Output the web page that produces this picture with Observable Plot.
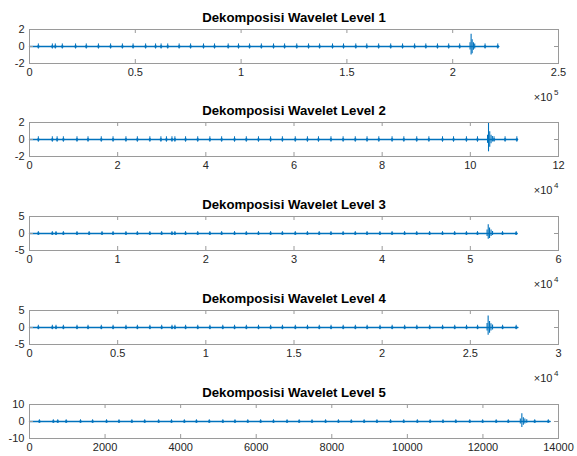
<!DOCTYPE html>
<html>
<head>
<meta charset="utf-8">
<script src="https://cdn.jsdelivr.net/npm/d3@7"></script>
<script src="https://cdn.jsdelivr.net/npm/@observablehq/plot@0.6"></script>
<style>
  html, body { margin: 0; padding: 0; background: #fff; }
  #root { position: relative; width: 577px; height: 456px; overflow: hidden; background: #fff; }
  #root svg { position: absolute; left: 0; overflow: visible; }
</style>
</head>
<body>
<div id="root"></div>
<script>
// ---------- data ----------
const titles = ["Dekomposisi Wavelet Level 1", "Dekomposisi Wavelet Level 2", "Dekomposisi Wavelet Level 3", "Dekomposisi Wavelet Level 4", "Dekomposisi Wavelet Level 5"];

const xMax = [250000, 120000, 60000, 30000, 14000];
const xTicks1 = [0, 50000, 100000, 150000, 200000, 250000];
const xLabels1 = ["0", "0.5", "1", "1.5", "2", "2.5"];
const xTicks2 = [0, 20000, 40000, 60000, 80000, 100000, 120000];
const xLabels2 = ["0", "2", "4", "6", "8", "10", "12"];
const xTicks3 = [0, 10000, 20000, 30000, 40000, 50000, 60000];
const xLabels3 = ["0", "1", "2", "3", "4", "5", "6"];
const xTicks4 = [0, 5000, 10000, 15000, 20000, 25000, 30000];
const xLabels4 = ["0", "0.5", "1", "1.5", "2", "2.5", "3"];
const xTicks5 = [0, 2000, 4000, 6000, 8000, 10000, 12000, 14000];
const xLabels5 = ["0", "2000", "4000", "6000", "8000", "10000", "12000", "14000"];
const xExpBase = ["×10", "×10", "×10", "×10", ""];
const xExpPower = ["5", "4", "4", "4", ""];

const yMax = [2, 2, 5, 5, 10];
const yTicks1 = [-2, 0, 2];
const yTicks2 = [-2, 0, 2];
const yTicks3 = [-5, 0, 5];
const yTicks4 = [-5, 0, 5];
const yTicks5 = [-10, 0, 10];

// signal extent (sample index of the last point)
const signalEnd = [221800, 110700, 55300, 27700, 13780];

// positions of the small regular spikes
const spikes1 = [4181, 10800, 12195, 15504, 21775, 26827, 32575, 38324, 43898, 48950, 54873, 59576, 62190, 65325, 70725, 76125, 82226, 87448, 93900, 98770, 104000, 109570, 115320, 120550, 126300, 131870, 137100, 143200, 148400, 154200, 159400, 165000, 170700, 176300, 182000, 187300, 192800, 198100, 203300, 215300, 221300];
const spikes2 = [2004, 5177, 6263, 7682, 10772, 13277, 16283, 18955, 21877, 24466, 27305, 29810, 31062, 32315, 32983, 35404, 38160, 40915, 43587, 46510, 49182, 51937, 54693, 57365, 60287, 63043, 65548, 68387, 71142, 73898, 76570, 79242, 82248, 84920, 87842, 90598, 93687, 96192, 99115, 101620, 105377, 107882, 110554];
const spikes3 = [1002, 2589, 3006, 3841, 5386, 6764, 8225, 9477, 10939, 12233, 13652, 14988, 16157, 16491, 17702, 19080, 20458, 21794, 23255, 24591, 25969, 27346, 28682, 30144, 31521, 32857, 34193, 35571, 36949, 38285, 39746, 41124, 42543, 43921, 45382, 46843, 48221, 49557, 50810, 53650, 55200];
const spikes4 = [501, 1295, 1503, 1921, 2694, 3320, 4072, 4740, 5471, 6118, 6828, 7496, 8081, 8248, 8853, 9542, 10231, 10962, 11630, 12298, 12987, 13676, 14344, 15075, 15764, 16433, 17101, 17790, 18479, 19147, 19878, 20567, 21277, 21966, 22697, 23427, 24116, 24785, 25411, 26830, 27600];
const spikes5 = [262, 631, 748, 971, 1350, 1670, 2039, 2369, 2709, 3049, 3418, 3758, 4098, 4418, 4758, 5117, 5438, 5777, 6117, 6457, 6816, 7137, 7477, 7836, 8176, 8516, 8856, 9195, 9555, 9904, 10264, 10603, 10943, 11283, 11652, 11992, 12351, 12671, 13371, 13730];
const spikeAmp = [0.3, 0.32, 0.55, 0.65, 1.0];

// the large burst near the end of each level
const burstX1 = [208200, 208700, 209200, 209800, 210400];
const burstHi1 = [0.45, 1.43, 0.8, 0.45, 0.3];
const burstLo1 = [-0.4, -1.0, -0.85, -0.45, -0.3];
const burstX2 = [103900, 104125, 104400, 104700, 105000];
const burstHi2 = [0.5, 1.95, 0.9, 0.5, 0.35];
const burstLo2 = [-0.45, -1.45, -0.9, -0.5, -0.3];
const burstX3 = [51900, 52030, 52180, 52350, 52520];
const burstHi3 = [1.0, 2.6, 1.6, 1.0, 0.6];
const burstLo3 = [-0.9, -1.7, -1.5, -0.9, -0.6];
const burstX4 = [25950, 26010, 26090, 26170, 26260];
const burstHi4 = [1.2, 3.4, 1.8, 1.1, 0.7];
const burstLo4 = [-1.0, -2.3, -1.7, -1.0, -0.7];
const burstX5 = [12990, 13030, 13070, 13110, 13160];
const burstHi5 = [1.5, 4.6, 2.2, 1.4, 1.0];
const burstLo5 = [-1.4, -3.5, -2.2, -1.4, -1.0];

// ---------- build ----------
const xTicks = [xTicks1, xTicks2, xTicks3, xTicks4, xTicks5];
const xLabels = [xLabels1, xLabels2, xLabels3, xLabels4, xLabels5];
const yTicks = [yTicks1, yTicks2, yTicks3, yTicks4, yTicks5];
const spikes = [spikes1, spikes2, spikes3, spikes4, spikes5];
const burstX = [burstX1, burstX2, burstX3, burstX4, burstX5];
const burstHi = [burstHi1, burstHi2, burstHi3, burstHi4, burstHi5];
const burstLo = [burstLo1, burstLo2, burstLo3, burstLo4, burstLo5];

const W = 577, ML = 29, MR = 19, MT = 22, INNER_H = 34, MB = 38;
const innerW = W - ML - MR;
const boxTops = [28.5, 121.5, 216, 310, 404];
const blue = "#0072BD";
const axisGray = "#9a9a9a";
const textCol = "#262626";
const font = "'Liberation Sans', Arial, Helvetica, sans-serif";

const root = document.getElementById("root");

for (let i = 0; i < 5; i++) {
  const base = [{x: 0, y: 0}, {x: signalEnd[i], y: 0}];
  const sp = spikes[i].map(x => ({x, lo: -spikeAmp[i], hi: spikeAmp[i]}));
  const bu = burstX[i].map((x, j) => ({x, lo: burstLo[i][j], hi: burstHi[i][j]}));
  const labs = xLabels[i];
  const ticks = xTicks[i];
  const marks = [
    Plot.line(base, {x: "x", y: "y", stroke: blue, strokeWidth: 1.3}),
    Plot.ruleX(sp, {x: "x", y1: "lo", y2: "hi", stroke: blue, strokeWidth: 1}),
    Plot.dot(sp, {x: "x", y: 0, r: 1.3, fill: blue, stroke: "none"}),
    Plot.ruleX(bu, {x: "x", y1: "lo", y2: "hi", stroke: blue, strokeWidth: 1.1}),
    Plot.frame({stroke: axisGray, strokeWidth: 1}),
    Plot.tickX(ticks, {x: d => d, insetBottom: INNER_H - 4, stroke: axisGray}),
    Plot.tickX(ticks, {x: d => d, insetTop: INNER_H - 4, stroke: axisGray}),
    Plot.tickY(yTicks[i], {y: d => d, insetRight: innerW - 4, stroke: axisGray}),
    Plot.tickY(yTicks[i], {y: d => d, insetLeft: innerW - 4, stroke: axisGray}),
    Plot.axisX({anchor: "bottom", ticks, tickSize: 0, tickPadding: 5, label: null,
      tickFormat: d => labs[ticks.indexOf(d)], fill: textCol, fontSize: 11}),
    Plot.axisY({anchor: "left", ticks: yTicks[i], tickSize: 0, tickPadding: 5, label: null,
      tickFormat: d => String(d), fill: textCol, fontSize: 11}),
    Plot.text([titles[i]], {text: d => d, frameAnchor: "top", lineAnchor: "middle", dy: -12,
      fontWeight: "bold", fontSize: 13.2, fill: "#000"}),
  ];
  if (xExpBase[i]) {
    marks.push(Plot.text([xExpBase[i]], {text: d => d, frameAnchor: "bottom-right", lineAnchor: "middle",
      textAnchor: "end", dy: 34, dx: -6, fontSize: 11, fill: textCol}));
    marks.push(Plot.text([xExpPower[i]], {text: d => d, frameAnchor: "bottom-right", lineAnchor: "middle",
      textAnchor: "end", dy: 29, dx: 0, fontSize: 8, fill: textCol}));
  }
  const svg = Plot.plot({
    width: W, height: MT + INNER_H + MB,
    marginLeft: ML, marginRight: MR, marginTop: MT, marginBottom: MB,
    x: {domain: [0, xMax[i]], label: null},
    y: {domain: [-yMax[i], yMax[i]], label: null},
    style: {fontFamily: font, background: "transparent", overflow: "visible"},
    marks
  });
  svg.style.top = (boxTops[i] - MT) + "px";
  root.appendChild(svg);
}
</script>
</body>
</html>
